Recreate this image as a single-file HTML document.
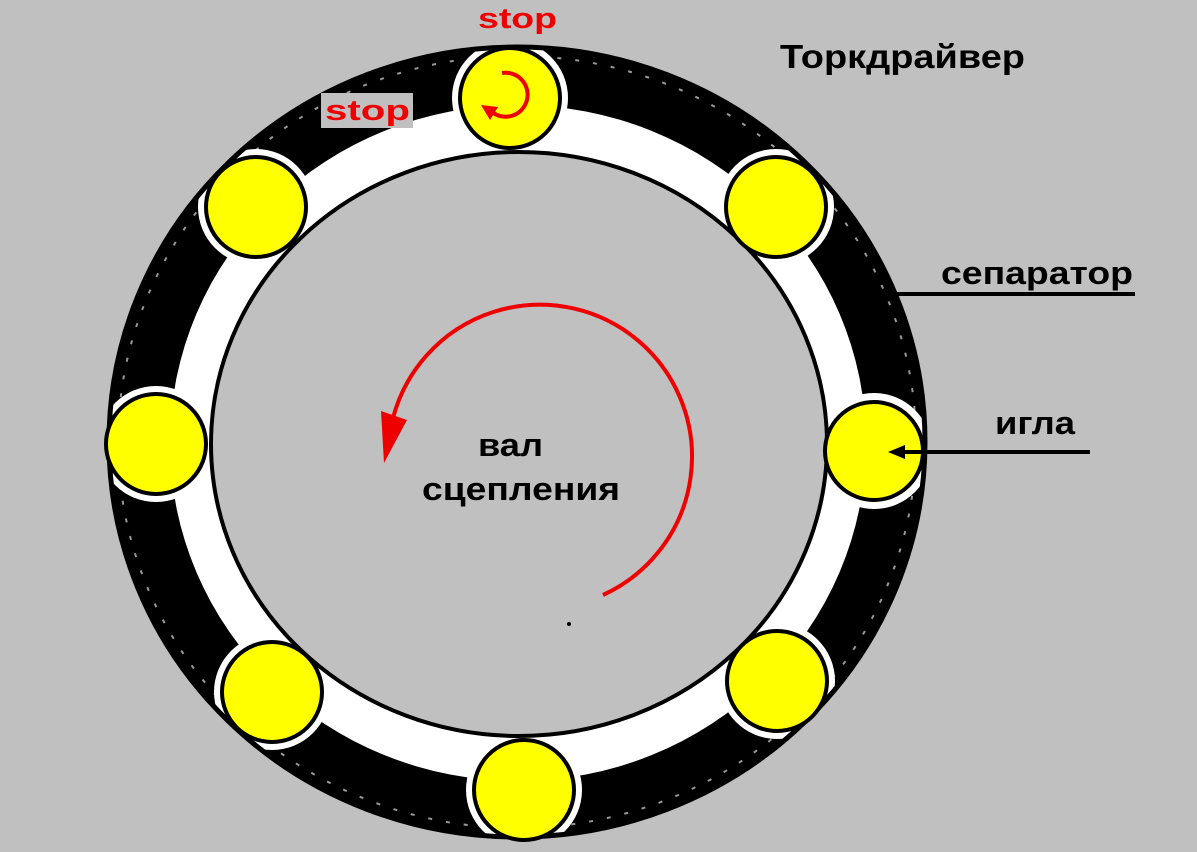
<!DOCTYPE html>
<html><head><meta charset="utf-8"><style>
html,body{margin:0;padding:0;background:#c0c0c0;}
svg{display:block;}
text{font-family:"Liberation Sans",sans-serif;font-weight:bold;}
</style></head><body>
<svg width="1197" height="852" viewBox="0 0 1197 852" xmlns="http://www.w3.org/2000/svg">
<defs>
<clipPath id="outer"><ellipse cx="517" cy="442" rx="408" ry="395"/></clipPath>
</defs>
<rect width="1197" height="852" fill="#c0c0c0"/>
<ellipse cx="517" cy="442" rx="410" ry="397" fill="#000"/>
<ellipse cx="517" cy="442" rx="399" ry="386" fill="none" stroke="#fff" stroke-width="2" stroke-dasharray="4 14" opacity="0.6"/>
<ellipse cx="518" cy="443" rx="348" ry="338" fill="#fff"/>
<g clip-path="url(#outer)" fill="#fff">
<circle cx="510" cy="98" r="58"/>
<circle cx="256" cy="207" r="58"/>
<circle cx="776" cy="207" r="58"/>
<circle cx="156" cy="444" r="58"/>
<circle cx="874" cy="451" r="58"/>
<circle cx="272" cy="692" r="58"/>
<circle cx="777" cy="681" r="58"/>
<circle cx="524" cy="790" r="58"/>
</g>
<ellipse cx="517" cy="442" rx="408" ry="395" fill="none" stroke="#000" stroke-width="5"/>
<ellipse cx="519" cy="444" rx="308" ry="292" fill="#c0c0c0" stroke="#000" stroke-width="4"/>
<g fill="#ffff00" stroke="#000" stroke-width="4">
<circle cx="510" cy="98" r="50"/>
<circle cx="256" cy="207" r="50"/>
<circle cx="776" cy="207" r="50"/>
<circle cx="156" cy="444" r="50"/>
<circle cx="874" cy="451" r="49"/>
<circle cx="272" cy="692" r="50"/>
<circle cx="777" cy="681" r="50"/>
<circle cx="524" cy="790" r="50"/>
</g>
<path d="M502,73 A22,22 0 1 1 492,112" fill="none" stroke="#e00" stroke-width="4"/>
<polygon points="481,105 498,107 490,120" fill="#e00"/>
<path d="M603,595 A152,152 0 1 0 393,418" fill="none" stroke="#e00" stroke-width="4"/>
<polygon points="381,411 407,420 384,463" fill="#e00"/>
<circle cx="569" cy="624" r="2" fill="#000"/>
<text x="478" y="28" font-size="29" fill="#e00" textLength="79" lengthAdjust="spacingAndGlyphs">stop</text>
<rect x="321" y="93" width="92" height="35" fill="#c0c0c0"/>
<text x="325" y="120" font-size="29" fill="#e00" textLength="85" lengthAdjust="spacingAndGlyphs">stop</text>
<text x="780" y="68" font-size="33" fill="#000" textLength="245" lengthAdjust="spacingAndGlyphs">Торкдрайвер</text>
<text x="941" y="284" font-size="32" fill="#000" textLength="192" lengthAdjust="spacingAndGlyphs">сепаратор</text>
<line x1="897" y1="294" x2="1135" y2="294" stroke="#000" stroke-width="4"/>
<path d="M897,294 L850,292 M860,285 L850,293 L862,300" stroke="#000" stroke-width="2" fill="none"/>
<text x="995" y="434" font-size="32" fill="#000" textLength="80" lengthAdjust="spacingAndGlyphs">игла</text>
<line x1="900" y1="452" x2="1090" y2="452" stroke="#000" stroke-width="4"/>
<polygon points="888,452 905,445 905,459" fill="#000"/>
<text x="478" y="456" font-size="32" fill="#000" textLength="65" lengthAdjust="spacingAndGlyphs">вал</text>
<text x="422" y="500" font-size="32" fill="#000" textLength="198" lengthAdjust="spacingAndGlyphs">сцепления</text>
</svg>
</body></html>
